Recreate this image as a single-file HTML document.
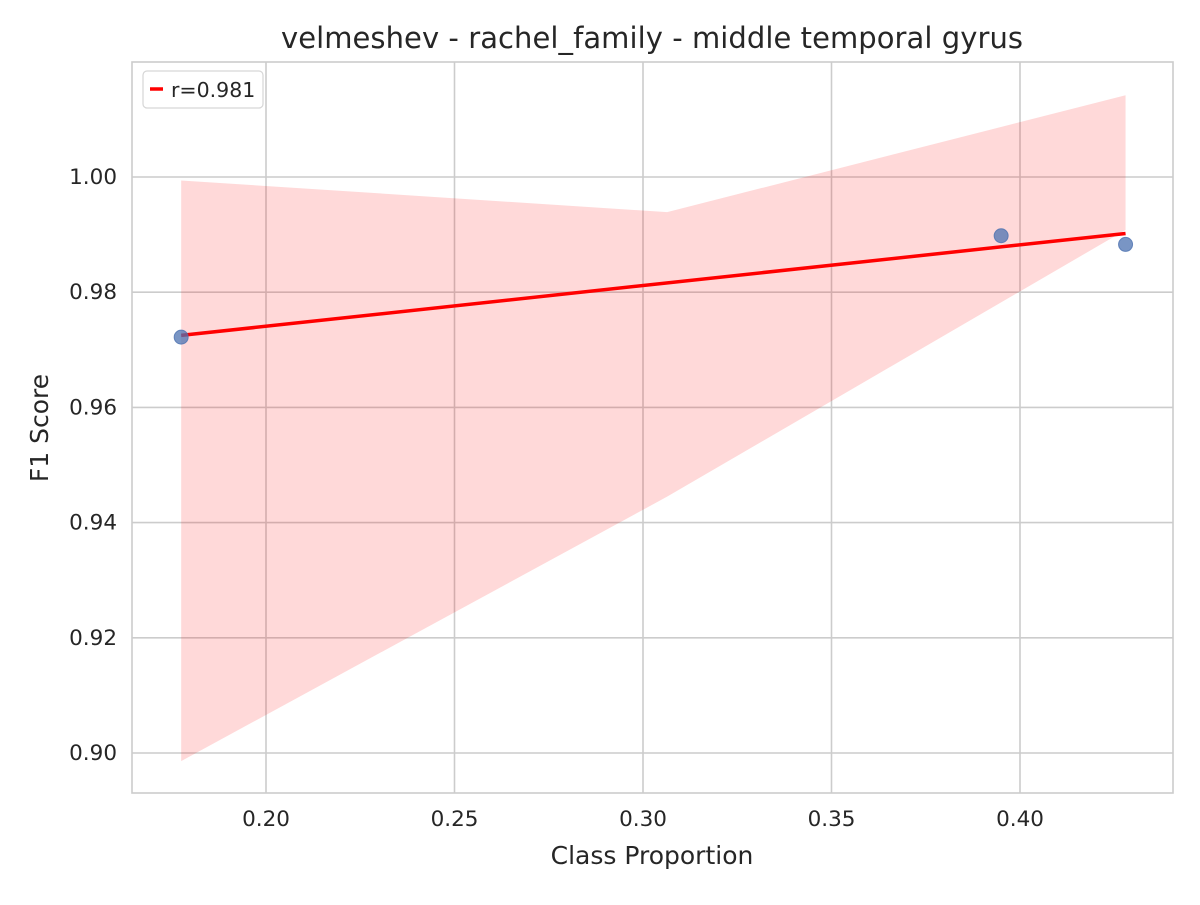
<!DOCTYPE html>
<html><head><meta charset="utf-8"><style>
body{margin:0;background:#fff}
svg text{font-family:"DejaVu Sans","Liberation Sans",sans-serif;fill:#262626}
</style></head><body>
<svg width="1200" height="900">
<rect x="132" y="62" width="1041" height="731" fill="#fff"/>
<g id="grid"></g>
<g id="band"></g>
<g id="pts"></g>
<g id="fit"></g>
<rect x="132" y="62" width="1041" height="731" fill="none" stroke="#cccccc" stroke-width="1.6"/>
<g id="ticks"></g>
<text x="652" y="48" font-size="29" text-anchor="middle" textLength="742">velmeshev - rachel_family - middle temporal gyrus</text>
<text x="652" y="864" font-size="25" text-anchor="middle">Class Proportion</text>
<text x="48" y="428" font-size="25" text-anchor="middle" transform="rotate(-90 48 428)">F1 Score</text>
<g>
<rect x="143" y="71" width="120" height="37" rx="4" fill="#fff" stroke="#d6d6d6" stroke-width="1.2"/>
<line x1="150" y1="89" x2="163" y2="89" stroke="red" stroke-width="3.5"/>
<text x="171" y="97" font-size="20.5">r=0.981</text>
</g>
</svg>
<script>
const xTicks=[0.20,0.25,0.30,0.35,0.40];
const yTicks=[0.90,0.92,0.94,0.96,0.98,1.00];
const ptX=[0.1775,0.395,0.428];
const ptY=[0.9722,0.9898,0.9883];
const fitX=[0.1775,0.428];
const fitY=[0.9725,0.9902];
const bandX=[0.1775,0.3064,0.428];
const bandUpper=[0.9994,0.9939,1.0142];
const bandLower=[0.8986,0.9445,0.9908];
const sx=v=>266+(v-0.20)*3770;
const sy=v=>177-(v-1.00)*5760;
const NS='http://www.w3.org/2000/svg';
function mk(t,a,p){const e=document.createElementNS(NS,t);for(const k in a)e.setAttribute(k,a[k]);document.getElementById(p).appendChild(e);return e;}
xTicks.forEach(v=>{
const l=mk('line',{x1:sx(v),x2:sx(v),y1:62,y2:793,stroke:'#cccccc','stroke-width':1.6},'grid');


const t=mk('text',{x:sx(v),y:826,'font-size':21.5,'text-anchor':'middle'},'ticks');t.textContent=v.toFixed(2);


});
yTicks.forEach(v=>{
const l=mk('line',{x1:132,x2:1173,y1:sy(v),y2:sy(v),stroke:'#cccccc','stroke-width':1.6},'grid');


const t=mk('text',{x:117,y:sy(v)+7,'font-size':21.5,'text-anchor':'end'},'ticks');t.textContent=v.toFixed(2);


});
let pts=bandX.map((x,i)=>sx(x)+','+sy(bandUpper[i]));
for(let i=bandX.length-1;i>=0;i--)pts.push(sx(bandX[i])+','+sy(bandLower[i]));
const b=mk('polygon',{points:pts.join(' '),fill:'#ff0000','fill-opacity':0.15},'band');


const f=mk('line',{x1:sx(fitX[0]),y1:sy(fitY[0]),x2:sx(fitX[1]),y2:sy(fitY[1]),stroke:'red','stroke-width':3.5},'fit');


ptX.forEach((x,i)=>{
const c=mk('circle',{cx:sx(x),cy:sy(ptY[i]),r:7,fill:'#4c72b0','fill-opacity':0.75,stroke:'#4c72b0','stroke-opacity':0.8},'fit');


});
</script>
</body></html>
